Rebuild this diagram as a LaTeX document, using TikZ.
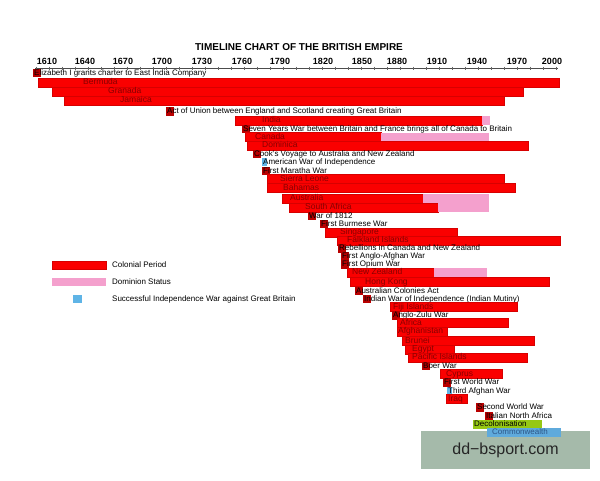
\documentclass[tikz,border=0pt]{standalone}
\usepackage{fontspec}
\setmainfont{Liberation Sans}
\definecolor{colred}{RGB}{250,0,0}
\definecolor{coledge}{RGB}{215,0,0}
\definecolor{darkr}{RGB}{185,0,0}
\definecolor{lblred}{RGB}{135,0,0}
\definecolor{dompink}{RGB}{244,160,205}
\definecolor{indblue}{RGB}{95,180,230}
\definecolor{decgreen}{RGB}{150,200,20}
\definecolor{cwblue}{RGB}{95,170,220}
\definecolor{cwtext}{RGB}{45,85,135}
\definecolor{wmark}{RGB}{165,186,170}
\tikzset{
  txt/.style={font=\fontsize{8}{9}\selectfont, anchor=west, inner sep=0pt, text height=5.8pt, text depth=1.6pt},
  evlbl/.style={txt, text=black},
  barlbl/.style={txt, text=lblred, font=\fontsize{8.5}{9}\selectfont},
  redbox/.style={fill=colred, draw=coledge, line width=0.4pt},
  yearlbl/.style={font=\bfseries\fontsize{9}{10}\selectfont, inner sep=0pt},
  titlelbl/.style={font=\bfseries\fontsize{10}{11}\selectfont, inner sep=0pt},
  axisline/.style={draw=black!70, line width=0.6pt},
}
\newcommand\cbar[6]{%
  \path[redbox] (#3,#2-4.5) rectangle (#4,#2+4.5);
  \node[barlbl] (#1) at (#5,#2) {#6};}
\newcommand\pbar[3]{\fill[dompink] (#2,#1-4.3) rectangle (#3,#1+4.3);}
\newcommand\evt[4]{%
  \fill[darkr] (#3,#2-4.25) rectangle (#3+8,#2+4.25);
  \node[evlbl] (#1) at (#3+1,#2) {#4};}
\newcommand\ievt[4]{%
  \fill[indblue] (#3,#2-4.25) rectangle (#3+5,#2+4.25);
  \node[evlbl] (#1) at (#3+1,#2) {#4};}
\begin{document}
\begin{tikzpicture}[x=1pt,y=-1pt]
\useasboundingbox (0,0) rectangle (600,480);
% title and axis
\node[titlelbl] (title) at (299,47) {TIMELINE CHART OF THE BRITISH EMPIRE};
\foreach \yr/\xx in {1610/47,1640/85,1670/123,1700/162,1730/202,1760/242,1790/280,1820/323,1850/362,1880/397,1910/437,1940/477,1970/517,2000/552}
  \node[yearlbl] (y\yr) at (\xx,61) {\yr};
\draw[axisline] (35,68) -- (558,68);
\foreach \i in {0,...,40} \draw[black!60, line width=0.4pt] (36+\i*13,66.5) -- ++(0,3);
% rows
\evt{eliz}{73}{33}{Elizabeth I grants charter to East India Company}
\cbar{bermuda}{82.5}{38}{559}{83}{Bermuda}
\cbar{granada}{91.5}{52}{523}{108}{Granada}
\cbar{jamaica}{100.5}{64}{504}{120}{Jamaica}
\evt{union}{111.5}{166}{Act of Union between England and Scotland creating Great Britain}
\cbar{india}{120.5}{235}{482}{262}{India}\pbar{120.5}{482}{490}
\evt{seven}{129}{242}{Seven Years War between Britain and France brings all of Canada to Britain}
\cbar{canada}{137}{245}{381}{255}{Canada}\pbar{137}{381}{489}
\cbar{dominica}{145.5}{247}{528}{262}{Dominica}
\evt{cook}{154}{253}{Cook's Voyage to Australia and New Zealand}
\ievt{amwar}{162}{262}{American War of Independence}
\evt{maratha}{171}{262}{First Maratha War}
\cbar{sierra}{179}{267}{504}{280}{Sierra Leone}
\cbar{bahamas}{188}{267}{515}{283}{Bahamas}
\cbar{australia}{198.5}{282}{423}{290}{Australia}\pbar{198.5}{423}{489}
\cbar{safrica}{207.5}{289}{438}{305}{South Africa}\pbar{207.5}{438}{489}
\evt{wareighteen}{216}{308}{War of 1812}
\evt{burmese}{224}{320}{First Burmese War}
\cbar{singapore}{232.5}{325}{457}{340}{Singapore}
\cbar{falkland}{240.5}{337}{560}{347}{Falkland Islands}
\evt{rebellions}{248.5}{338}{Rebellions in Canada and New Zealand}
\evt{angloafghan}{256.5}{341}{First Anglo-Afghan War}
\evt{opium}{264.5}{341}{First Opium War}
\cbar{nz}{272.5}{347}{434}{352}{New Zealand}\pbar{272.5}{434}{487}
\cbar{hk}{282}{350}{549}{365}{Hong Kong}
\evt{auscol}{291}{355}{Australian Colonies Act}
\evt{mutiny}{299}{363}{Indian War of Independence (Indian Mutiny)}
\cbar{fiji}{307}{390}{517}{393}{Fiji Islands}
\evt{zulu}{315.5}{392}{Anglo-Zulu War}
\cbar{africa}{323}{397}{508}{400}{Africa}
\cbar{afghanistan}{331.5}{397}{447}{398}{Afghanistan}
\cbar{brunei}{341}{402}{534}{405}{Brunei}
\cbar{egypt}{349.5}{405}{454}{412}{Egypt}
\cbar{pacific}{357.5}{408}{527}{412}{Pacific Islands}
\evt{boer}{366}{422}{Boer War}
\cbar{cyprus}{374}{440}{502}{446}{Cyprus}
\evt{wwi}{382.5}{443}{First World War}
\ievt{afghanthree}{391}{447}{Third Afghan War}
\cbar{iraq}{399}{446}{467}{448}{Iraq}
\evt{wwii}{407.5}{476}{Second World War}
\evt{italian}{416.5}{485}{Italian North Africa}
\fill[decgreen] (473,419.5) rectangle (542,428.5);
\node[evlbl] (decol) at (474,424) {Decolonisation};
% watermark
\fill[wmark] (421,431) rectangle (590,469);
\node[font=\fontsize{16}{18}\selectfont, text=black!85, inner sep=0pt] (wm) at (505.5,450) {dd−bsport.com};
\fill[cwblue] (487,428) rectangle (561,437);
\node[txt, text=cwtext] (cw) at (492,432.5) {Commonwealth};
% legend
\path[redbox] (52,261) rectangle (106,269);
\node[evlbl] (lgcol) at (112,265) {Colonial Period};
\fill[dompink] (52,278) rectangle (106,286);
\node[evlbl] (lgdom) at (112,282) {Dominion Status};
\fill[indblue] (73,295) rectangle (82,303);
\node[evlbl] (lgind) at (112,299) {Successful Independence War against Great Britain};
\end{tikzpicture}
\end{document}
